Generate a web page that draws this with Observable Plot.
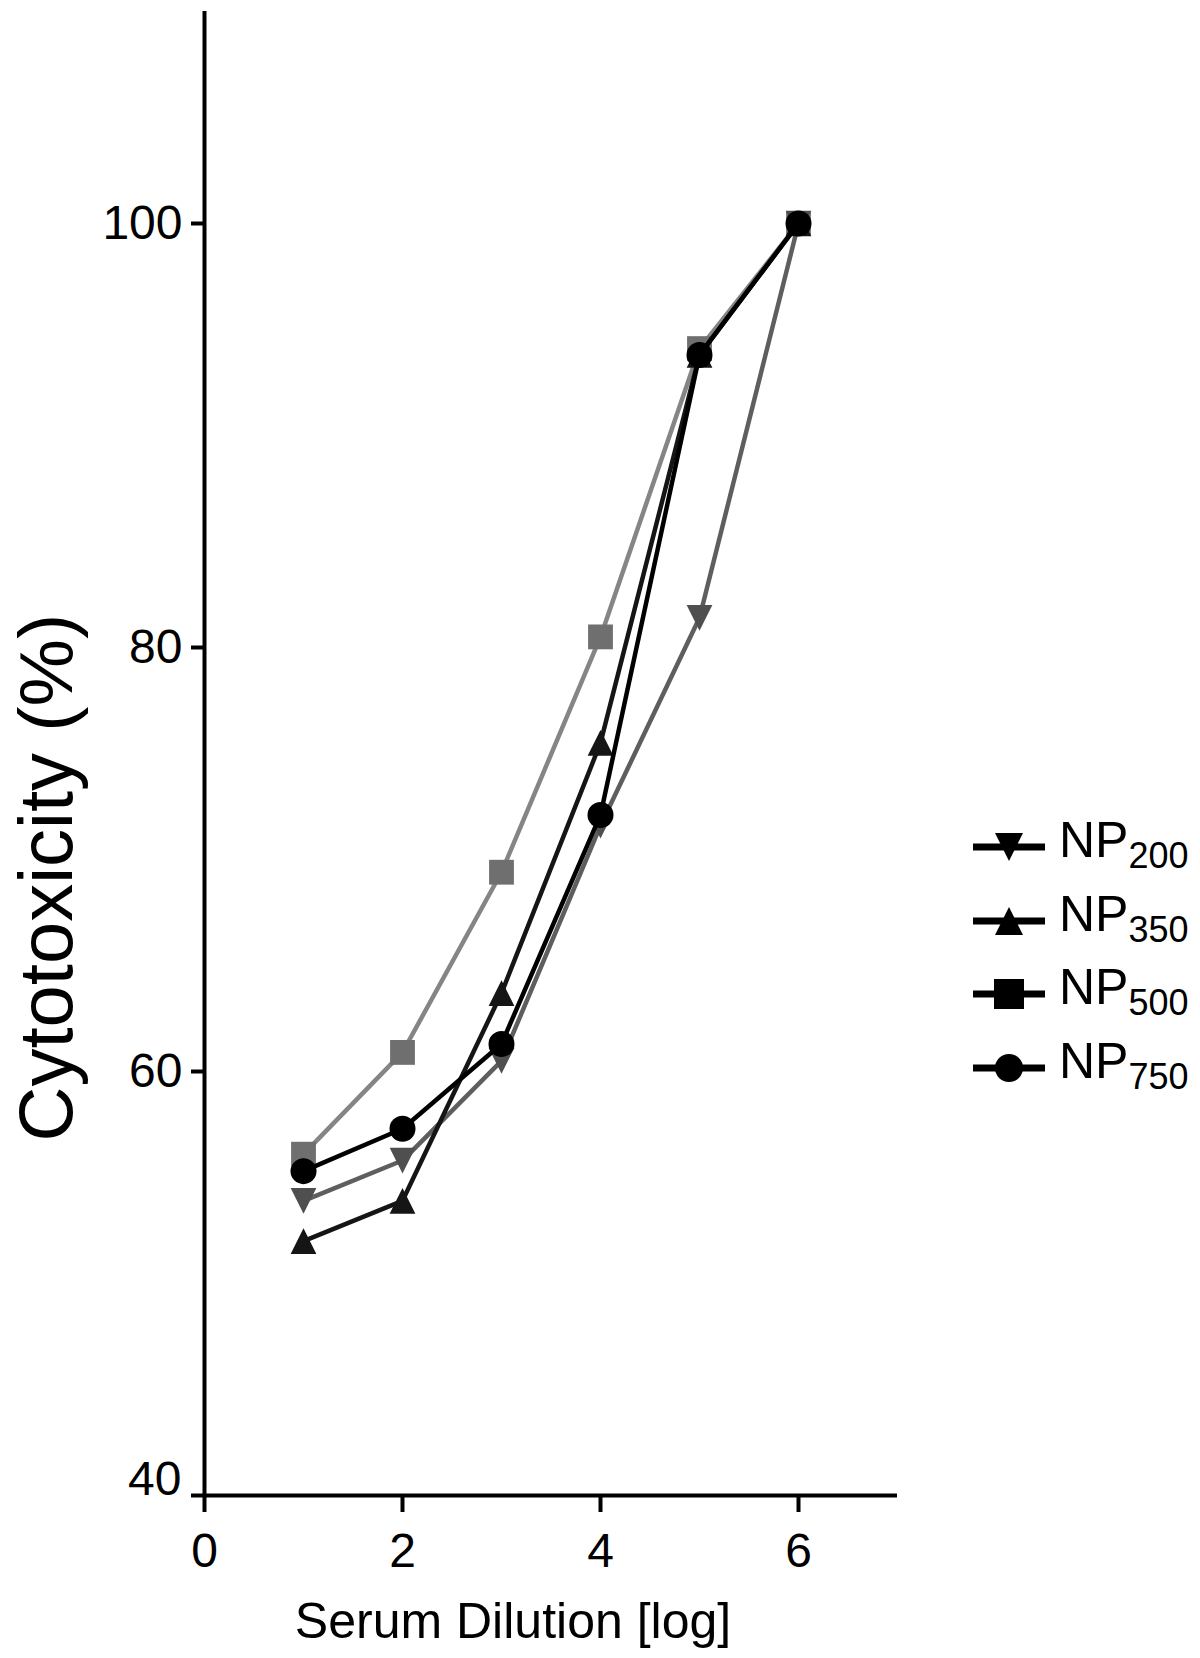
<!DOCTYPE html>
<html><head><meta charset="utf-8">
<script src="https://cdn.jsdelivr.net/npm/d3@7"></script>
<script src="https://cdn.jsdelivr.net/npm/@observablehq/plot@0.6"></script>
<style>
body{margin:0;background:#fff;}
#wrap{position:relative;width:1200px;height:1658px;font-family:"Liberation Sans",Arial,sans-serif;overflow:hidden;}
.legsym{position:absolute;}
.legtxt{position:absolute;font-size:50px;line-height:50px;color:#000;white-space:nowrap;}
.legtxt sub{font-size:36px;vertical-align:-11px;line-height:0;}
</style></head><body><div id="wrap"></div>
<script>
// ---- data ----
const dilution = [1, 2, 3, 4, 5, 6];
const seriesNames = ["NP200", "NP350", "NP500", "NP750"];
const np200 = [53.9, 55.8, 60.5, 71.6, 81.4, 100];
const np350 = [52.0, 53.9, 63.7, 75.5, 93.8, 100];
const np500 = [56.1, 60.9, 69.4, 80.5, 94.1, 100];
const np750 = [55.3, 57.3, 61.3, 72.1, 93.8, 100];
const xTicks = [0, 2, 4, 6];
const yTicks = [40, 60, 80, 100];
const xLabel = "Serum Dilution [log]";
const yLabel = "Cytotoxicity (%)";

const values = {NP200: np200, NP350: np350, NP500: np500, NP750: np750};
const rows = seriesNames.flatMap(s => dilution.map((d, i) => ({series: s, x: d, y: values[s][i]})));

// custom triangles (width = height)
const triUp = {draw(ctx, size) { const s = Math.sqrt(size); ctx.moveTo(0, -s/2); ctx.lineTo(s/2, s/2); ctx.lineTo(-s/2, s/2); ctx.closePath(); }};
const triDown = {draw(ctx, size) { const s = Math.sqrt(size); ctx.moveTo(0, s/2); ctx.lineTo(s/2, -s/2); ctx.lineTo(-s/2, -s/2); ctx.closePath(); }};

const style = {
  NP500: {line: "#858585", fill: "#6f6f6f", symbol: "square", r: 14},
  NP200: {line: "#5e5e5e", fill: "#4f4f4f", symbol: triDown, r: 14.5},
  NP350: {line: "#151515", fill: "#151515", symbol: triUp, r: 14.5},
  NP750: {line: "#000000", fill: "#000000", symbol: "circle", r: 13}
};
const drawOrder = ["NP500", "NP200", "NP350", "NP750"];

const seriesMarks = drawOrder.flatMap(s => {
  const d = rows.filter(r => r.series === s);
  const st = style[s];
  return [
    Plot.line(d, {x: "x", y: "y", stroke: st.line, strokeWidth: 4.5}),
    Plot.dot(d, {x: "x", y: "y", symbol: () => st.symbol, r: st.r, fill: st.fill, stroke: "none"})
  ];
});

const chart = Plot.plot({
  width: 1200,
  height: 1658,
  marginTop: 11,
  marginBottom: 163,
  marginLeft: 204,
  marginRight: 303,
  style: {fontFamily: "'Liberation Sans', Arial, sans-serif", fontSize: "48px", background: "#fff", color: "#000"},
  x: {domain: [0, 7], axis: null},
  y: {domain: [40, 110], axis: null},
  symbol: {type: "identity"},
  marks: [
    Plot.ruleX([0], {y1: 40, y2: 110, stroke: "#000", strokeWidth: 4}),
    Plot.ruleY([40], {x1: 0, x2: 7, stroke: "#000", strokeWidth: 4}),
    Plot.axisY(yTicks, {tickSize: 13, tickPadding: 9, fontSize: 48, strokeWidth: 4, label: null, tickFormat: d => d === 40 ? "" : String(d)}),
    Plot.text(yTicks.filter(v => v === 40), {y: d => d, text: d => String(d), frameAnchor: "left", textAnchor: "end", lineAnchor: "middle", dx: -23, dy: -16, fontSize: 48}),
    Plot.axisX(xTicks, {tickSize: 17, tickPadding: 20, fontSize: 48, strokeWidth: 4, label: null}),
    Plot.text([yLabel], {text: d => d, frameAnchor: "left", textAnchor: "middle", lineAnchor: "middle", rotate: -90, dx: -157, dy: 124, fontSize: 76}),
    Plot.text([xLabel], {text: d => d, frameAnchor: "bottom", textAnchor: "middle", lineAnchor: "middle", dx: -38, dy: 126, fontSize: 50}),
    ...seriesMarks
  ]
});
const wrap = document.getElementById("wrap");
wrap.appendChild(chart);

// ---- legend ----
const legendOrder = ["NP200", "NP350", "NP500", "NP750"];
const legendSubs = ["200", "350", "500", "750"];
const legSymbols = {NP200: triDown, NP350: triUp, NP500: d3.symbolSquare, NP750: d3.symbolCircle};
const legSize = {NP200: 28*28, NP350: 28*28, NP500: 30*30, NP750: Math.PI*14*14};
legendOrder.forEach((s, i) => {
  const rowY = 847 + 73.5 * i;
  const svg = d3.create("svg").attr("class", "legsym").attr("width", 84).attr("height", 44)
    .style("left", "967px").style("top", (rowY - 22) + "px");
  svg.append("line").attr("x1", 6).attr("x2", 78).attr("y1", 22).attr("y2", 22).attr("stroke", "#000").attr("stroke-width", 7);
  svg.append("path").attr("transform", "translate(42,22)").attr("d", d3.symbol(legSymbols[s], legSize[s])()).attr("fill", "#000");
  wrap.appendChild(svg.node());
  const t = document.createElement("div");
  t.className = "legtxt";
  t.style.left = "1059px";
  t.style.top = (rowY - 32) + "px";
  t.innerHTML = "NP<sub>" + legendSubs[i] + "</sub>";
  wrap.appendChild(t);
});
</script></body></html>
